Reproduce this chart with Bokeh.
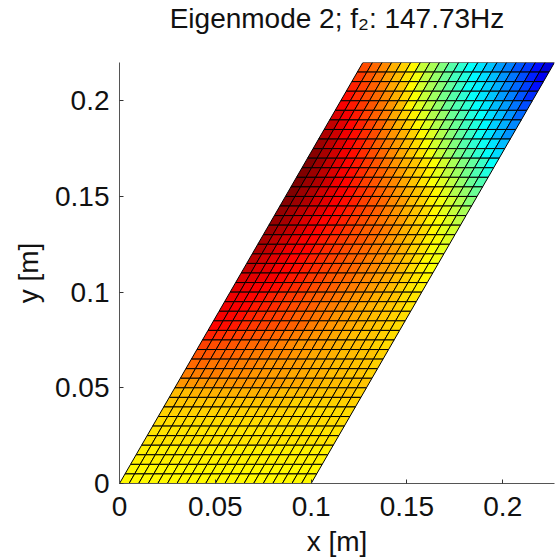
from bokeh.plotting import figure
from bokeh.models import LinearColorMapper, Title
from bokeh.embed import file_html
from bokeh.resources import INLINE

chart_title = "Eigenmode 2; f\u2082: 147.73Hz"

# Modal amplitude per cell (colour scale 0..100), read row by row from the top of the mesh
r00 = [80,77,74,70,67,63,57,54,50,46,42,38,35,32,28,25,21,18,14,9]
r01 = [82,79,76,72,69,65,61,56,52,48,44,41,37,34,31,27,24,20,16,11]
r02 = [84,81,78,75,71,68,63,58,54,51,47,43,39,36,33,30,26,23,19,14]
r03 = [86,83,80,77,74,70,66,62,57,53,49,46,42,38,35,32,28,25,21,17]
r04 = [88,85,82,79,76,73,69,64,59,56,52,48,45,42,38,35,31,28,24,20]
r05 = [91,88,85,81,78,75,71,67,64,59,55,52,48,45,41,38,34,31,27,23]
r06 = [93,90,87,84,81,78,74,70,67,63,59,55,51,48,44,41,37,33,30,26]
r07 = [95,92,89,86,83,80,76,73,70,67,63,59,55,51,47,43,39,35,31,27]
r08 = [97,94,91,88,85,82,78,75,72,69,66,62,58,54,50,46,42,39,35,31]
r09 = [99,96,92,89,86,83,80,77,74,71,68,65,61,57,53,49,46,42,38,34]
r10 = [100,97,93,90,87,85,82,79,76,73,70,68,65,62,58,54,50,47,43,38]
r11 = [100,97,94,91,88,86,83,80,78,75,72,69,67,64,60,56,53,49,45,41]
r12 = [100,97,95,92,89,87,84,81,79,76,74,71,68,65,62,59,56,52,48,45]
r13 = [100,97,95,92,90,88,86,83,81,78,76,73,70,68,66,63,59,55,52,48]
r14 = [99,97,95,92,90,88,86,84,81,79,77,74,72,69,67,64,61,58,55,51]
r15 = [98,96,94,92,90,88,86,84,82,80,78,75,73,70,68,66,63,60,57,54]
r16 = [98,96,93,91,89,87,86,84,82,80,78,76,74,72,69,67,64,62,59,56]
r17 = [97,95,93,91,89,87,85,84,82,80,78,77,75,73,70,68,66,63,60,58]
r18 = [96,94,92,90,88,87,85,83,82,80,79,77,75,73,71,69,67,64,62,59]
r19 = [95,93,91,89,88,87,85,83,82,80,78,77,75,74,72,70,67,65,62,60]
r20 = [94,92,90,89,87,86,84,83,81,80,78,77,75,74,72,70,68,66,63,61]
r21 = [93,91,90,88,87,86,84,83,81,80,78,77,75,74,72,71,69,66,64,62]
r22 = [91,90,89,88,87,85,84,82,81,79,78,77,75,74,72,71,69,67,65,63]
r23 = [90,89,88,87,86,84,83,82,80,79,78,76,75,74,72,71,69,67,65,64]
r24 = [89,88,87,86,84,83,82,81,79,78,77,76,74,73,72,70,69,68,66,65]
r25 = [89,88,87,85,84,83,81,80,79,78,76,75,74,73,71,70,69,68,67,65]
r26 = [88,87,86,84,83,82,81,80,78,77,76,75,73,72,71,70,69,68,67,66]
r27 = [87,86,85,83,82,81,80,79,78,77,75,74,73,72,71,70,69,68,67,66]
r28 = [84,83,82,81,80,79,78,77,76,75,74,73,72,71,70,69,68,68,67,66]
r29 = [81,80,80,79,78,77,77,76,75,74,73,73,72,71,70,69,69,68,67,66]
r30 = [79,79,78,78,77,76,75,75,74,74,73,72,71,71,70,69,69,68,68,67]
r31 = [77,77,76,76,76,75,75,74,73,73,72,72,71,70,70,69,69,68,68,67]
r32 = [75,75,75,75,74,74,74,73,73,72,72,71,71,70,70,69,69,68,68,67]
r33 = [73,73,73,73,73,73,73,73,72,72,72,71,71,70,70,69,69,68,68,68]
r34 = [69,69,70,70,70,70,70,70,70,70,70,69,69,69,69,68,68,68,68,67]
r35 = [68,68,68,68,68,68,68,68,68,68,68,68,68,67,67,67,67,67,67,67]
r36 = [67,67,67,67,67,67,67,67,67,67,67,67,67,67,66,66,66,66,66,66]
r37 = [66,66,66,66,66,66,66,66,66,66,66,66,66,66,66,66,66,66,66,66]
r38 = [65,65,65,65,65,65,65,65,65,65,65,65,65,65,65,65,65,65,65,65]
r39 = [65,65,65,65,65,65,65,65,65,65,65,65,65,65,65,65,65,65,65,65]
r40 = [64,64,64,64,64,64,64,64,64,64,64,64,64,64,64,64,64,64,64,64]
r41 = [64,64,64,64,64,64,64,64,64,64,64,64,64,64,64,64,64,64,64,64]
r42 = [63,63,63,63,63,63,63,63,63,63,63,63,63,63,63,63,63,63,63,63]
r43 = [63,63,63,63,63,63,63,63,63,63,63,63,63,63,63,63,63,63,63,63]
rows_top_down = [r00,r01,r02,r03,r04,r05,r06,r07,r08,r09,r10,r11,r12,r13,r14,r15,r16,r17,r18,r19,r20,
                 r21,r22,r23,r24,r25,r26,r27,r28,r29,r30,r31,r32,r33,r34,r35,r36,r37,r38,r39,r40,r41,r42,r43]

plate_chord = 0.1      # m
plate_height = 0.22    # m
plate_sweep = 0.127    # m, x offset of the top edge
x_ticks = [0, 0.05, 0.1, 0.15, 0.2]
y_ticks = [0, 0.05, 0.1, 0.15, 0.2]
tick_labels = ["0", "0.05", "0.1", "0.15", "0.2"]

def jet_color(t):
    def ch(c):
        return int(round(255 * max(0.0, min(1.0, 1.5 - abs(4 * t - c)))))
    return "#%02x%02x%02x" % (ch(3), ch(2), ch(1))
jet = [jet_color(i / 255) for i in range(256)]

n_rows = len(rows_top_down)
n_cols = len(r00)
def node(i, j):
    return (plate_chord * i / n_cols + plate_sweep * j / n_rows, plate_height * j / n_rows)

xs, ys, vals = [], [], []
for k, row in enumerate(rows_top_down):
    j = n_rows - 1 - k
    for i, v in enumerate(row):
        c = [node(i, j), node(i + 1, j), node(i + 1, j + 1), node(i, j + 1)]
        xs.append([q[0] for q in c])
        ys.append([q[1] for q in c])
        vals.append(v)

FONT = "Liberation Sans"
p = figure(width=555, height=560, frame_width=435, frame_height=421,
           min_border_left=119, min_border_top=62, min_border_right=1, min_border_bottom=77,
           x_range=(0, plate_chord + plate_sweep), y_range=(0, plate_height),
           title=chart_title,
           output_backend="svg", toolbar_location=None, outline_line_color=None,
           background_fill_color="white", border_fill_color="white")
p.grid.visible = False
mapper = LinearColorMapper(palette=jet, low=0, high=100)
p.patches(xs="xs", ys="ys", source=dict(xs=xs, ys=ys, v=vals),
          fill_color={"field": "v", "transform": mapper},
          line_color="#000000", line_width=1.0)

p.title.text_font = FONT
p.title.text_font_size = "28px"
p.title.text_font_style = "normal"
p.title.text_color = "#111111"
p.title.align = "center"
p.title.offset = -2
p.title.standoff = 0
# An empty title row lifts the real title away from the frame
p.add_layout(Title(text=" ", text_font_size="1px", standoff=26), "above")

for ax, ticks, label in ((p.xaxis[0], x_ticks, "x [m]"), (p.yaxis[0], y_ticks, "y [m]")):
    ax.ticker = ticks
    ax.major_label_overrides = {t: s for t, s in zip(ticks, tick_labels)}
    ax.minor_tick_line_color = None
    ax.major_tick_in = 4
    ax.major_tick_out = 0
    ax.axis_line_color = "#555555"
    ax.major_tick_line_color = "#333333"
    ax.axis_line_width = 1
    ax.major_label_text_font = FONT
    ax.major_label_text_font_size = "28px"
    ax.major_label_text_color = "#111111"
    ax.axis_label = label
    ax.axis_label_text_font = FONT
    ax.axis_label_text_font_size = "28px"
    ax.axis_label_text_font_style = "normal"
    ax.axis_label_text_color = "#111111"
p.xaxis[0].major_label_standoff = 13
p.yaxis[0].major_label_standoff = 10
p.xaxis[0].axis_label_standoff = 7
p.yaxis[0].axis_label_standoff = 8

open("out.html", "w").write(file_html(p, INLINE))
